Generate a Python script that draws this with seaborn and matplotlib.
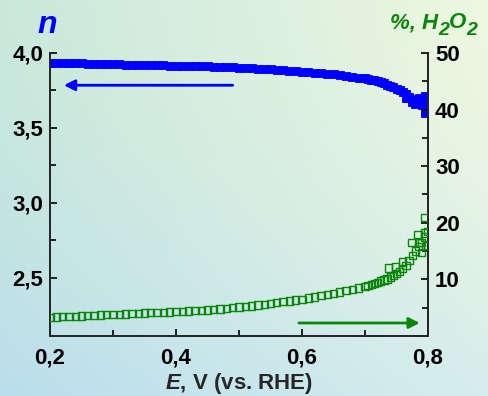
import numpy as np
import matplotlib
matplotlib.use("Agg")
import matplotlib.pyplot as plt
import seaborn as sns

# ---- Data ----
E = [0.20, 0.21, 0.22, 0.23, 0.24, 0.25, 0.26, 0.27, 0.28, 0.29,
     0.30, 0.31, 0.32, 0.33, 0.34, 0.35, 0.36, 0.37, 0.38, 0.39,
     0.40, 0.41, 0.42, 0.43, 0.44, 0.45, 0.46, 0.47, 0.48, 0.49,
     0.50, 0.51, 0.52, 0.53, 0.54, 0.55, 0.56, 0.57, 0.58, 0.59,
     0.60, 0.61, 0.62, 0.63, 0.64, 0.65, 0.66, 0.67, 0.68, 0.69,
     0.70, 0.705, 0.71, 0.715, 0.72, 0.725, 0.73, 0.735, 0.74, 0.745,
     0.75, 0.755, 0.76, 0.765, 0.77, 0.775, 0.78, 0.785, 0.79, 0.795,
     0.80]

n_values = [3.935, 3.934, 3.933, 3.932, 3.931, 3.930, 3.929, 3.928, 3.927, 3.926,
            3.925, 3.924, 3.923, 3.922, 3.921, 3.920, 3.919, 3.918, 3.917, 3.916,
            3.915, 3.914, 3.913, 3.912, 3.911, 3.910, 3.908, 3.907, 3.905, 3.904,
            3.902, 3.900, 3.898, 3.896, 3.894, 3.891, 3.888, 3.885, 3.882, 3.879,
            3.876, 3.872, 3.869, 3.865, 3.861, 3.857, 3.852, 3.847, 3.842, 3.836,
            3.830, 3.826, 3.822, 3.817, 3.812, 3.806, 3.798, 3.785, 3.778, 3.770,
            3.760, 3.752, 3.742, 3.725, 3.705, 3.690, 3.685, 3.680, 3.678, 3.675,
            3.670]

h2o2_values = [3.30, 3.35, 3.40, 3.45, 3.50, 3.55, 3.60, 3.65, 3.70, 3.75,
               3.80, 3.85, 3.90, 3.95, 4.00, 4.05, 4.10, 4.15, 4.20, 4.25,
               4.30, 4.35, 4.40, 4.45, 4.55, 4.60, 4.70, 4.80, 4.90, 5.00,
               5.10, 5.20, 5.30, 5.45, 5.60, 5.75, 5.90, 6.05, 6.20, 6.35,
               6.50, 6.70, 6.90, 7.10, 7.30, 7.50, 7.75, 8.00, 8.25, 8.50,
               8.80, 8.95, 9.10, 9.30, 9.50, 9.70, 9.90, 10.1, 10.4, 10.7,
               11.0, 11.4, 11.9, 12.5, 13.3, 14.2, 15.0, 15.8, 16.5, 17.5,
               18.5]

# noisy points near the end of the scan
E_tail_n = [0.765, 0.775, 0.78, 0.785, 0.79, 0.795, 0.795, 0.80]
n_tail = [3.700, 3.670, 3.660, 3.700, 3.650, 3.600, 3.710, 3.640]

E_tail_h = [0.737, 0.748, 0.76, 0.774, 0.784, 0.787, 0.79, 0.795, 0.795, 0.80]
h2o2_tail = [12.0, 12.2, 13.1, 16.5, 17.9, 16.5, 14.7, 18.2, 20.9, 16.0]

n_ticks = [2.5, 3.0, 3.5, 4.0]
n_ticklabels = ["2,5", "3,0", "3,5", "4,0"]
h_ticks = [10, 20, 30, 40, 50]
h_ticklabels = ["10", "20", "30", "40", "50"]
e_ticks = [0.2, 0.4, 0.6, 0.8]
e_ticklabels = ["0,2", "0,4", "0,6", "0,8"]

BLUE = "#0000ff"
GREEN = "#0a860a"
TICK_FS = 16

sns.set_style("ticks")
plt.rcParams["font.family"] = ["Liberation Sans", "DejaVu Sans"]
plt.rcParams["font.weight"] = "bold"
plt.rcParams["mathtext.fontset"] = "custom"
plt.rcParams["mathtext.it"] = "Liberation Sans:italic:bold"
plt.rcParams["mathtext.rm"] = "Liberation Sans:bold"

fig = plt.figure(figsize=(4.88, 3.96), dpi=100)

# ---- gradient background ----
bg = fig.add_axes([0, 0, 1, 1], zorder=-10)
tl = np.array([0.79, 0.91, 0.86])
tr = np.array([0.93, 0.97, 0.88])
bl = np.array([0.73, 0.87, 0.93])
br = np.array([0.84, 0.93, 0.93])
u = np.linspace(0, 1, 200)[None, :, None]
v = np.linspace(0, 1, 200)[:, None, None] ** 1.6
img = (1 - v) * ((1 - u) * tl + u * tr) + v * ((1 - u) * bl + u * br)
bg.imshow(img, aspect="auto", extent=[0, 1, 0, 1])
bg.axis("off")

ax = fig.add_axes([50 / 488, 60 / 396, 378 / 488, 283 / 396])
ax.patch.set_alpha(0)

sns.scatterplot(x=E, y=n_values, marker="s", s=34, color=BLUE,
                edgecolor=BLUE, linewidth=0.6, ax=ax, zorder=3)
sns.scatterplot(x=E_tail_n, y=n_tail, marker="s", s=34, color=BLUE,
                edgecolor=BLUE, linewidth=0.6, ax=ax, zorder=3)

ax.set_xlim(0.2, 0.8)
ax.set_ylim(2.113, 4.0)
ax.set_xticks(e_ticks)
ax.set_xticklabels(e_ticklabels)
ax.set_xticks([0.3, 0.5, 0.7], minor=True)
ax.set_yticks(n_ticks)
ax.set_yticklabels(n_ticklabels)
ax.set_yticks([2.75, 3.25, 3.75], minor=True)
ax.tick_params(which="both", direction="in", width=1.2, colors="black",
               labelsize=TICK_FS)
ax.tick_params(which="major", length=5)
ax.tick_params(which="minor", length=4)
ax.tick_params(axis="x", pad=8)
ax.tick_params(axis="y", pad=5)
for sp in ["left", "bottom", "right"]:
    ax.spines[sp].set_linewidth(1.3)
ax.spines["top"].set_visible(False)

ax.set_xlabel(r"$\mathit{E}$, V (vs. RHE)", fontsize=16, fontweight="bold",
              labelpad=2)

ax2 = ax.twinx()
ax2.patch.set_alpha(0)
sns.scatterplot(x=E, y=h2o2_values, marker="s", s=28, facecolor="none",
                edgecolor=GREEN, linewidth=1.0, ax=ax2, zorder=3)
sns.scatterplot(x=E_tail_h, y=h2o2_tail, marker="s", s=28, facecolor="none",
                edgecolor=GREEN, linewidth=1.0, ax=ax2, zorder=3)
ax2.set_ylim(0, 50)
ax2.set_yticks(h_ticks)
ax2.set_yticklabels(h_ticklabels)
ax2.set_yticks([5, 15, 25, 35, 45], minor=True)
ax2.tick_params(which="both", direction="in", width=1.2, colors="black",
                labelsize=TICK_FS, pad=5)
ax2.tick_params(which="major", length=5)
ax2.tick_params(which="minor", length=4)
for sp in ["left", "bottom", "right"]:
    ax2.spines[sp].set_linewidth(1.3)
ax2.spines["top"].set_visible(False)

# arrows showing which axis each curve belongs to
ax.annotate("", xy=(0.222, 3.785), xytext=(0.49, 3.785),
            arrowprops=dict(arrowstyle="-|>", color=BLUE, lw=2,
                            mutation_scale=16, shrinkA=0, shrinkB=0))
ax2.annotate("", xy=(0.787, 2.3), xytext=(0.595, 2.3),
             arrowprops=dict(arrowstyle="-|>", color=GREEN, lw=2,
                             mutation_scale=16, shrinkA=0, shrinkB=0))

# axis titles
fig.text(47 / 488, 1 - 33 / 396, "n", color=BLUE, fontsize=23,
         fontweight="bold", fontstyle="italic", ha="center", va="baseline")

# "%, H2O2" built from pieces so the subscripts stay large
lab = dict(color=GREEN, fontweight="bold", fontstyle="italic")
t1 = fig.text(390 / 488, 1 - 28 / 396, "%, H", fontsize=16, va="baseline", **lab)
t2 = ax.annotate("2", xy=(1, 0), xycoords=t1, xytext=(0, -4.5),
                 textcoords="offset points", fontsize=14, va="bottom",
                 annotation_clip=False, **lab)
t3 = ax.annotate("O", xy=(1, 0), xycoords=(t2, t1), va="bottom",
                 fontsize=16, annotation_clip=False, **lab)
ax.annotate("2", xy=(1, 0), xycoords=(t3, t1), xytext=(0, -4.5),
            textcoords="offset points", fontsize=14, va="bottom",
            annotation_clip=False, **lab)

fig.savefig("out.png", dpi=100)
